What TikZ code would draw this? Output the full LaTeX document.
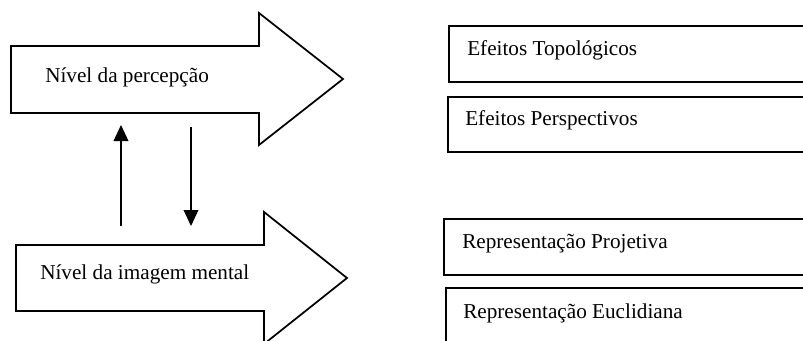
\documentclass[tikz,border=0pt]{standalone}
\usepackage{fontspec}
\setmainfont{Liberation Serif}
\usetikzlibrary{arrows.meta}

\tikzset{
  shape line/.style={line width=1.3pt, line join=miter},
  label text/.style={anchor=base west, inner sep=0pt, font=\fontsize{15.9}{19}\selectfont},
  link/.style={line width=1.1pt, -{Triangle[length=12pt, width=11pt]}}
}

\begin{document}
\begin{tikzpicture}[x=0.75pt, y=-0.75pt]
  \useasboundingbox (0,0) rectangle (803,340);
  \clip (0,0) rectangle (803,340);
  % level arrows
  \draw[shape line] (11,46) -- (259,46) -- (259,13) -- (343,79) -- (259,145)
    -- (259,113) -- (11,113) -- cycle;
  \node[label text] (percep) at (45,82) {Nível da percepção};
  \draw[shape line] (16,245) -- (264,245) -- (264,212) -- (347,278) -- (264,344)
    -- (264,311) -- (16,311) -- cycle;
  \node[label text] (imagem) at (40,279) {Nível da imagem mental};
  % links between the levels
  \coordinate (upfoot) at (121,226);
  \coordinate (uphead) at (121,125);
  \coordinate (downfoot) at (191,127);
  \coordinate (downhead) at (191,226);
  \draw[link] (upfoot) -- (uphead);
  \draw[link] (downfoot) -- (downhead);
  % boxes on the right
  \draw[shape line] (449,26) rectangle (815,82);
  \node[label text] (topo) at (467,55) {Efeitos Topológicos};
  \draw[shape line] (448,97) rectangle (815,152);
  \node[label text] (persp) at (465,125) {Efeitos Perspectivos};
  \draw[shape line] (444,219) rectangle (815,275);
  \node[label text] (proj) at (462,248) {Representação Projetiva};
  \draw[shape line] (446,288) rectangle (815,355);
  \node[label text] (eucl) at (463,318) {Representação Euclidiana};
\end{tikzpicture}
\end{document}
